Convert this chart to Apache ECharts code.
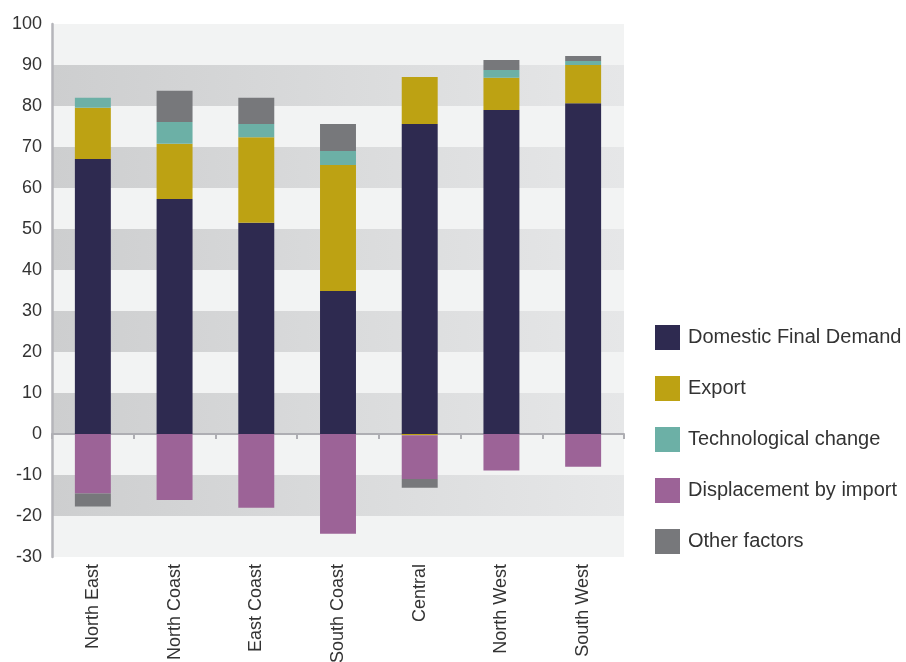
<!DOCTYPE html>
<html>
<head>
<meta charset="utf-8">
<script src="https://cdn.jsdelivr.net/npm/echarts@6/dist/echarts.min.js"></script>
<style>html,body{margin:0;padding:0;background:#fff;}#c{width:906px;height:662px;}</style>
</head>
<body>
<div id="c"></div>
<script>
const categories = ['North East','North Coast','East Coast','South Coast','Central','North West','South West'];
const seriesNames = ['Domestic Final Demand','Export','Technological change','Displacement by import','Other factors'];
const domestic = [67.1, 57.3, 51.5, 34.9, 75.6, 79.0, 80.7];
const exportVals = [12.5, 13.5, 20.9, 30.7, 11.5, 7.9, 9.3];
const exportNeg = [0, 0, 0, 0, -0.3, 0, 0];
const tech = [2.4, 5.3, 3.2, 3.4, 0, 1.9, 1.0];
const displacement = [-14.5, -16.1, -18.0, -24.3, -10.7, -8.9, -8.0];
const otherFactors = [-3.2, 7.6, 6.4, 6.6, -2.1, 2.4, 1.2];
const yTicks = {min: -30, max: 100, interval: 10};

const colors = {
  'Domestic Final Demand': '#2e2a50',
  'Export': '#bda213',
  'Technological change': '#6cb0a6',
  'Displacement by import': '#9c6397',
  'Other factors': '#77787b'
};
const font = 'Liberation Sans, Arial, Helvetica, sans-serif';

const darkBand = new echarts.graphic.LinearGradient(0, 0, 1, 0, [
  {offset: 0, color: '#cdcecf'}, {offset: 1, color: '#e6e7e8'}
]);

const seriesDefs = [
  ['Domestic Final Demand', domestic],
  ['Export', exportVals],
  ['Export', exportNeg],
  ['Technological change', tech],
  ['Displacement by import', displacement],
  ['Other factors', otherFactors]
];

const chart = echarts.init(document.getElementById('c'));
chart.setOption({
  animation: false,
  backgroundColor: '#ffffff',
  grid: {left: 52, right: 282, top: 24, bottom: 105, containLabel: false, outerBoundsMode: 'none'},
  legend: {
    orient: 'vertical',
    left: 655,
    top: 325,
    padding: 0,
    itemWidth: 25,
    itemHeight: 25,
    itemGap: 26,
    icon: 'rect',
    textStyle: {fontFamily: font, fontSize: 20, color: '#333333', padding: [0, 0, 0, 3]},
    data: seriesNames
  },
  xAxis: [
    {
      type: 'category',
      data: categories,
      position: 'top',
      axisLine: {show: true, onZero: true, lineStyle: {color: '#aeaeb3', width: 2}},
      axisTick: {show: true, inside: true, interval: 0, length: 5, lineStyle: {color: '#aeaeb3', width: 2}},
      axisLabel: {show: false},
      splitLine: {show: false}
    },
    {
      type: 'category',
      data: categories,
      position: 'bottom',
      axisLine: {show: false, onZero: false},
      axisTick: {show: false},
      axisLabel: {show: true, interval: 0, rotate: 90, margin: 7, fontFamily: font, fontSize: 18, color: '#333333'},
      splitLine: {show: false}
    }
  ],
  yAxis: {
    type: 'value',
    min: yTicks.min,
    max: yTicks.max,
    interval: yTicks.interval,
    axisLine: {show: true, lineStyle: {color: '#b5b5ba', width: 2.5}},
    axisTick: {show: false},
    axisLabel: {fontFamily: font, fontSize: 18, color: '#333333', margin: 10},
    splitLine: {show: false},
    splitArea: {show: true, areaStyle: {color: ['#f2f3f3', darkBand]}}
  },
  series: seriesDefs.map(([name, vals]) => ({
    name: name,
    type: 'bar',
    stack: 'total',
    xAxisIndex: 0,
    barWidth: '44%',
    itemStyle: {color: colors[name]},
    data: vals
  }))
});
</script>
</body>
</html>
